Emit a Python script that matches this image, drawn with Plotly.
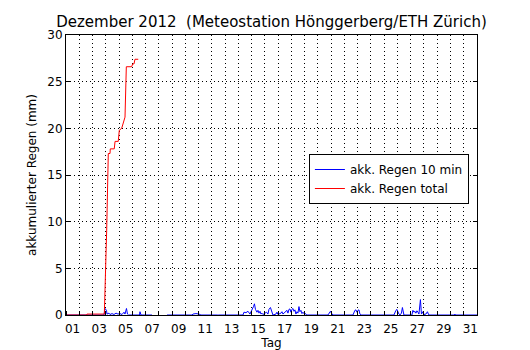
import pandas as pd
import plotly.graph_objects as go

# Start of the month; all times below are fractional days since this instant
month_start = pd.Timestamp("2012-12-01 00:00")

# Total accumulated rain (mm)
total_days = [0.00, 1.56, 1.58, 2.89, 3.07, 3.19, 3.32, 3.34, 3.64, 3.70, 3.94,
              4.02, 4.20, 4.30, 4.45, 4.55, 4.95, 5.03, 5.13, 5.20, 5.45]
total_mm = [0.0, 0.0, 0.1, 0.1, 9.1, 17.3, 17.3, 17.8, 17.8, 18.6, 18.6,
            19.8, 20.0, 20.5, 21.2, 26.6, 26.6, 26.9, 26.9, 27.4, 27.4]

# Rain per 10-minute interval (mm); None marks missing data
rain10_days = [
    0.000, 2.866, 2.941, 3.054, 3.092, 3.243, 3.318, 3.469, 3.620, 3.771, 3.921,
    4.072, 4.223, 4.374, 4.449, 4.562, 4.638, 4.713, 5.543, 5.580, 5.656, 6.485,
    6.500, 7.616,
    9.502, 9.577, 9.803, 10.030, 10.180, 11.425, 11.462, 11.500,
    13.348, 13.423, 13.574, 13.725, 13.875, 14.026, 14.139, 14.215, 14.290,
    14.403, 14.479, 14.554, 14.630, 14.705, 14.780, 14.856, 15.007, 15.120,
    15.233, 15.308, 15.421, 15.497, 15.572, 15.610, 15.836, 15.912, 15.987,
    16.213, 16.289, 16.364, 16.515, 16.666, 16.741, 16.816, 16.892, 16.967,
    17.043, 17.118, 17.193, 17.269, 17.344, 17.420, 17.495, 17.571, 17.646,
    17.721, 17.797, 17.872, 17.985, 18.023, 18.098, 18.174,
    19.757, 19.871, 19.946, 20.021, 20.097, 20.134, 21.000, 21.039, 21.080,
    21.643, 21.718, 21.793, 21.869, 21.944, 22.020, 22.095, 22.171, 22.246,
    24.734, 24.810, 24.885, 24.961, 25.036, 25.112, 25.187, 25.300, 25.375,
    25.451, 25.489,
    26.092, 26.167, 26.243, 26.318, 26.394, 26.469, 26.545, 26.620, 26.733,
    26.809, 26.921, 26.997, 27.148, 27.261, 27.336, 27.374,
    29.300, 29.334, 29.370, 31.000,
]
rain10_mm = [
    0.0, 0.0, 0.7, 0.5, 0.1, 0.2, 0.05, 0.15, 0.05, 0.2, 0.1,
    0.15, 0.05, 0.3, 0.1, 0.7, 0.1, 0.0, 0.0, 0.35, 0.0, 0.0,
    None, 0.0,
    0.0, 0.1, 0.15, 0.1, 0.0, 0.0, 0.05, 0.0,
    0.0, 0.3, 0.25, 0.4, 0.1, 0.5, 0.9, 1.2, 0.6,
    0.3, 0.5, 0.2, 0.4, 0.1, 0.2, 0.05, 0.15, 0.3,
    0.1, 0.6, 0.8, 0.4, 0.1, 0.0, 0.1, 0.3, 0.05,
    0.2, 0.35, 0.1, 0.3, 0.5, 0.2, 0.6, 0.65, 0.3,
    0.6, 0.7, 0.4, 0.55, 0.1, 0.35, 0.2, 0.9, 0.35,
    0.5, 0.15, 0.3, 0.1, 0.2, 0.05, 0.0,
    0.0, 0.3, 0.4, 0.2, 0.1, 0.0, 0.0, 0.05, 0.0,
    0.0, 0.3, 0.5, 0.55, 0.3, 0.5, 0.55, 0.1, 0.0,
    0.0, 0.35, 0.5, 0.6, 0.3, 0.1, 0.0, 0.2, 0.8,
    0.1, 0.0,
    0.0, 0.5, 0.3, 0.4, 0.2, 0.45, 0.3, 0.1, 1.65,
    0.1, 0.35, 0.05, 0.1, 0.35, 0.1, 0.0,
    0.0, 0.1, 0.0, 0.0,
]

# Day labels (odd days), centred at noon
label_days = list(range(1, 32, 2))
label_text = [f"{d:02d}" for d in label_days]

rain10_t = month_start + pd.to_timedelta(rain10_days, unit="D")
total_t = month_start + pd.to_timedelta(total_days, unit="D")
label_t = [month_start + pd.Timedelta(days=d - 1, hours=12) for d in label_days]
x_range = [month_start, month_start + pd.Timedelta(days=31)]

FONT = "DejaVu Sans"
DOTS = "1px,3px"
DAY_MS = 86400000

fig = go.Figure()
fig.add_trace(go.Scatter(x=rain10_t, y=rain10_mm, mode="lines",
                         name="akk. Regen 10 min",
                         line=dict(color="#0000ff", width=1),
                         connectgaps=False))
fig.add_trace(go.Scatter(x=total_t, y=total_mm, mode="lines",
                         name="akk. Regen total",
                         line=dict(color="#ff0000", width=1)))

fig.update_layout(
    width=530, height=350,
    margin=dict(l=66, r=53, t=35, b=35),
    paper_bgcolor="white", plot_bgcolor="white",
    font=dict(family=FONT, size=12, color="black"),
    title=dict(text="Dezember 2012\u00a0 (Meteostation Hönggerberg/ETH Zürich)",
               x=(66 + 477) / 2 / 530, xanchor="center",
               y=1 - 22 / 350, yanchor="middle",
               font=dict(family=FONT, size=15, color="black")),
    showlegend=True,
    legend=dict(x=0.591, y=0.575, xanchor="left", yanchor="top",
                bgcolor="white", bordercolor="black", borderwidth=1,
                font=dict(family=FONT, size=12, color="black"),
                tracegroupgap=0),
    # top axis carrying the mirrored daily tick marks
    xaxis2=dict(type="date", overlaying="x", side="top", range=x_range,
                matches="x", automargin=False, showticklabels=False,
                showgrid=False, zeroline=False, showline=False,
                tickvals=label_t, ticks="",
                minor=dict(dtick=DAY_MS, tick0=month_start, ticks="inside",
                           ticklen=4, tickcolor="black", showgrid=False)),
)

fig.layout.xaxis.update(
    type="date", automargin=False,
    range=x_range,
    tickvals=label_t, ticktext=label_text,
    ticks="", showgrid=False, zeroline=False,
    showline=True, linecolor="black", linewidth=1, mirror=True,
    tickfont=dict(family=FONT, size=12, color="black"),
    ticklabelstandoff=3,
    minor=dict(dtick=DAY_MS, tick0=month_start, ticks="inside", ticklen=4,
               tickcolor="black", showgrid=True, griddash=DOTS,
               gridcolor="black", gridwidth=1),
    title=dict(text="Tag", font=dict(family=FONT, size=12, color="black"),
               standoff=4),
)
fig.update_yaxes(
    automargin=False,
    range=[0, 30], dtick=5, tick0=0,
    ticks="inside", ticklen=4, tickcolor="black",
    showgrid=True, griddash=DOTS, gridcolor="black", gridwidth=1,
    zeroline=False,
    showline=True, linecolor="black", linewidth=1, mirror="ticks",
    tickfont=dict(family=FONT, size=12, color="black"),
    title=dict(text="akkumulierter Regen (mm)",
               font=dict(family=FONT, size=12, color="black"), standoff=8),
)

fig.write_html("out.html")
